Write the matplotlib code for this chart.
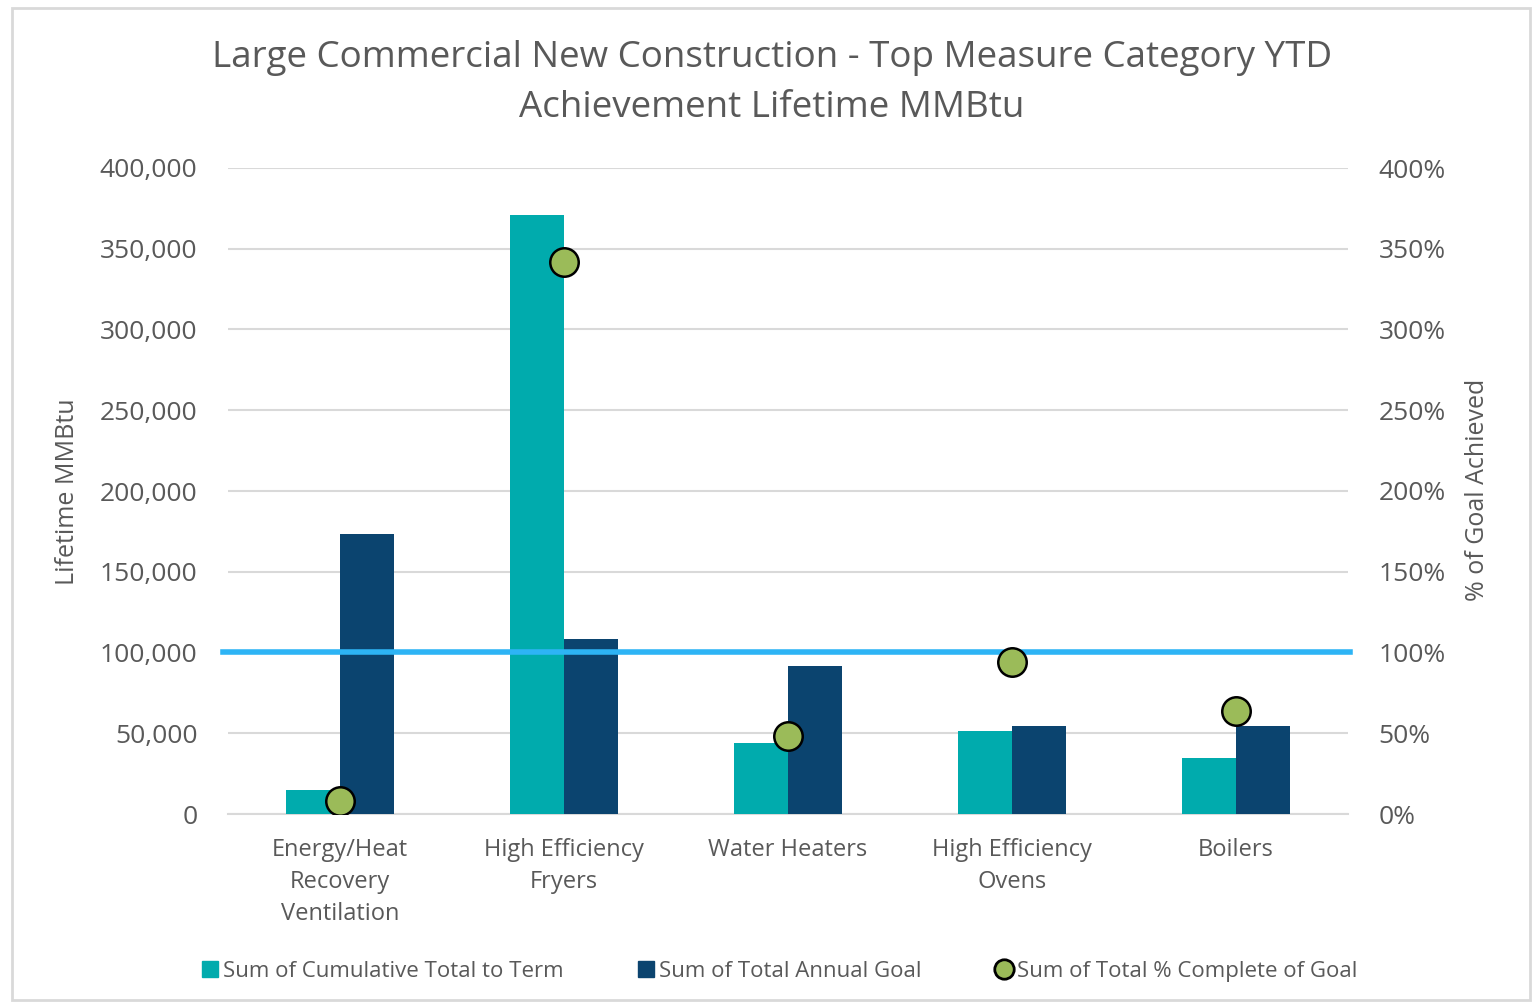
import numpy as np
import matplotlib.pyplot as plt
from matplotlib.patches import Rectangle
from matplotlib.lines import Line2D
from matplotlib.ticker import FuncFormatter

plt.rcParams['font.family'] = ['Open Sans', 'DejaVu Sans']

# Datos
categorias = ["Energy/Heat\nRecovery\nVentilation", "High Efficiency\nFryers", "Water Heaters",
              "High Efficiency\nOvens", "Boilers"]
acumulado = [15000, 371000, 44000, 51500, 34500]
meta_anual = [173500, 108500, 91500, 54500, 54500]
pct_meta = [8, 342, 48, 94, 64]

gris = "#595959"
teal = "#00ABAD"
azul = "#0B446F"
verde = "#9BBB59"
celeste = "#2DB4F5"

fig = plt.figure(figsize=(15.36, 10.05), dpi=100)
fig.patches.append(Rectangle((12/1536, 1-1000/1005), 1518/1536, 992/1005, transform=fig.transFigure,
                             fill=False, edgecolor="#D9D9D9", linewidth=2))

ax = fig.add_axes([228/1536, 1-814/1005, 1120/1536, 646/1005])
ax2 = ax.twinx()

x = np.arange(len(categorias))
w = 0.24
ax.bar(x - w/2, acumulado, width=w, color=teal, zorder=3)
ax.bar(x + w/2, meta_anual, width=w, color=azul, zorder=3)
ax.set_ylim(0, 400000)
ax.set_xlim(-0.5, 4.5)
ax.set_yticks(range(0, 400001, 50000))
ax.yaxis.set_major_formatter(FuncFormatter(lambda v, p: f"{int(v):,}"))
ax.grid(axis="y", color="#D9D9D9", linewidth=1.5, zorder=0)
ax.set_xticks(x)
ax.set_xticklabels(categorias, fontsize=17, color=gris, linespacing=1.45)
ax.tick_params(axis="y", length=0, labelsize=19, labelcolor=gris, pad=22)
ax.tick_params(axis="x", length=0, pad=17)
for s in ax.spines.values():
    s.set_visible(False)
ax.spines["bottom"].set_visible(True)
ax.spines["bottom"].set_color("#D9D9D9")
ax.spines["bottom"].set_linewidth(1.5)

ax2.set_ylim(0, 4)
ax2.set_yticks(np.arange(0, 4.01, 0.5))
ax2.yaxis.set_major_formatter(FuncFormatter(lambda v, p: f"{v*100:.0f}%"))
ax2.tick_params(axis="y", length=0, labelsize=19, labelcolor=gris, pad=22)
for s in ax2.spines.values():
    s.set_visible(False)
ax2.plot([-0.522, 4.509], [1, 1], color=celeste, linewidth=4, zorder=4, clip_on=False)
ax2.scatter(x, np.array(pct_meta)/100, s=420, color=verde, edgecolor="black", linewidth=1.8, zorder=5)

fig.text(67/1536, 1-492/1005, "Lifetime MMBtu", rotation=90, ha="center", va="center", fontsize=18, color=gris)
fig.text(1478/1536, 1-490/1005, "% of Goal Achieved", rotation=90, ha="center", va="center", fontsize=18, color=gris)

fig.text(772/1536, 1-83/1005, "Large Commercial New Construction - Top Measure Category YTD\nAchievement Lifetime MMBtu",
         ha="center", va="center", fontsize=26.5, color=gris, linespacing=1.5)

handles = [
    Line2D([], [], marker="s", linestyle="none", markersize=11, color=teal),
    Line2D([], [], marker="s", linestyle="none", markersize=11, color=azul),
    Line2D([], [], marker="o", linestyle="none", markersize=14, markerfacecolor=verde,
           markeredgecolor="black", markeredgewidth=2),
]
etiquetas = ["Sum of Cumulative Total to Term", "Sum of Total Annual Goal", "Sum of Total % Complete of Goal"]
fig.legend(handles, etiquetas, loc="center", bbox_to_anchor=(778/1536, 1-971/1005), ncol=3, frameon=False,
           fontsize=16, labelcolor=gris, handletextpad=0.1, columnspacing=3.2, handlelength=1)

fig.savefig("out.png", dpi=100)
